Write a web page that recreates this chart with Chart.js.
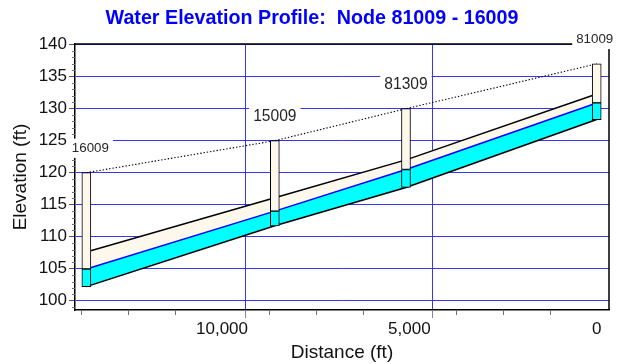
<!DOCTYPE html>
<html>
<head>
<meta charset="utf-8">
<title>Water Elevation Profile</title>
<script src="https://cdn.jsdelivr.net/npm/chart.js@4/dist/chart.umd.min.js"></script>
<style>
  html, body { margin: 0; padding: 0; background: #fff; }
  #wrap { width: 619px; height: 364px; }
</style>
</head>
<body>
<div id="wrap"><canvas id="profile-chart"></canvas></div>
<script>
// nodes along the profile, upstream to downstream (distance from outlet node)
var nodeNames  = ['16009', '15009', '81309', '81009'];
var nodeDist   = [13620, 8590, 5090, 0];
var invertElev = [102.2, 111.7, 117.7, 128.3];
var waterElev  = [104.95, 114.0, 120.5, 130.9];
var crownElev  = [107.6, 116.1, 122.0, 132.3];
var groundElev = [120, 125, 130, 137];

var distTicks = [0, 1250, 2500, 3750, 5000, 6250, 7500, 8750, 10000, 11250, 12500, 13750];
var elevTicks = [100, 105, 110, 115, 120, 125, 130, 135, 140];

var FONT = '"Liberation Sans", Arial, sans-serif';
var GRID = '#3535ff';
var CREAM = '#fdf7ec';
var CYAN = '#00ffff';

function pts(vals) {
    var out = [];
    nodeDist.forEach(function(d, i) { out.push({x: d, y: vals[i]}); });
    return out;
}
function boxes(lo, hi) {
    var out = [];
    nodeDist.forEach(function(d, i) { out.push({x: d, y: [lo[i], hi[i]]}); });
    return out;
}

// axis frame, minor ticks and node labels
var profileDecor = {
    id: 'profileDecor',
    afterDraw: function(chart) {
        var ctx = chart.ctx, a = chart.chartArea;
        var xs = chart.scales.x, ys = chart.scales.y;
        ctx.save();

        ctx.strokeStyle = '#707070';
        ctx.lineWidth = 1;
        ctx.beginPath();
        for (var v = Math.ceil(ys.min); v <= ys.max; v++) {
            if (v % 5 === 0) continue;
            var py = Math.round(ys.getPixelForValue(v)) + 0.5;
            ctx.moveTo(a.left - 3, py);
            ctx.lineTo(a.left, py);
        }
        distTicks.forEach(function(d) {
            if (d % 5000 === 0) return;
            var px = Math.round(xs.getPixelForValue(d)) + 0.5;
            ctx.moveTo(px, a.bottom);
            ctx.lineTo(px, a.bottom + 5);
        });
        ctx.stroke();

        ctx.strokeStyle = '#000';
        ctx.lineWidth = 1.5;
        ctx.beginPath();
        ctx.moveTo(a.left, a.top);
        ctx.lineTo(a.right, a.top);
        ctx.lineTo(a.right, a.bottom);
        ctx.stroke();

        // end labels are nudged inward so they stay clear of the axes
        ctx.textAlign = 'center';
        ctx.textBaseline = 'middle';
        var last = nodeNames.length - 1;
        nodeNames.forEach(function(name, i) {
            var size = (i === 0 || i === last) ? 13.3 : 15.6;
            var nudge = i === 0 ? 4 : (i === last ? -2 : 0);
            ctx.font = size + 'px ' + FONT;
            var x = xs.getPixelForValue(nodeDist[i]) + nudge;
            var y = ys.getPixelForValue(groundElev[i]) - 24.5;
            var w = ctx.measureText(name).width;
            ctx.fillStyle = '#fff';
            ctx.fillRect(x - w / 2 - 4, y - size / 2 - 3, w + 8, size + 6);
            ctx.fillStyle = '#262626';
            ctx.fillText(name, x, y);
        });
        ctx.restore();
    }
};

new Chart(document.getElementById('profile-chart'), {
    type: 'line',
    data: {
        datasets: [
            {
                type: 'bar', label: 'node water', data: boxes(invertElev, waterElev),
                backgroundColor: CYAN, borderColor: '#000', borderWidth: 1,
                borderSkipped: false, barThickness: 9, grouped: false, order: 0
            },
            {
                type: 'bar', label: 'node depth', data: boxes(waterElev, groundElev),
                backgroundColor: CREAM, borderColor: '#000', borderWidth: 1,
                borderSkipped: false, barThickness: 9, grouped: false, order: 0
            },
            {
                label: 'water', data: pts(waterElev),
                borderColor: '#0000ff', borderWidth: 1.5, pointRadius: 0,
                fill: {target: 3, above: CYAN, below: CYAN}, order: 2
            },
            {
                label: 'invert', data: pts(invertElev),
                borderColor: '#000', borderWidth: 1.5, pointRadius: 0,
                fill: false, order: 3
            },
            {
                label: 'crown', data: pts(crownElev),
                borderColor: '#000', borderWidth: 1.5, pointRadius: 0,
                fill: {target: 2, above: CREAM, below: CREAM}, order: 1
            },
            {
                label: 'ground', data: pts(groundElev),
                borderColor: '#000', borderWidth: 1.1, borderDash: [1.4, 1.9],
                pointRadius: 0, fill: false, order: 1
            }
        ]
    },
    options: {
        responsive: true,
        maintainAspectRatio: false,
        animation: false,
        devicePixelRatio: 1,
        layout: { padding: { left: 15, right: 10, top: 0, bottom: 0 } },
        plugins: {
            legend: { display: false },
            tooltip: { enabled: false },
            filler: { drawTime: 'beforeDatasetsDraw' },
            title: {
                display: true,
                text: 'Water Elevation Profile:  Node 81009 - 16009',
                color: '#0000ff',
                font: { family: FONT, size: 19.7, weight: 'bold' },
                padding: { top: 6.5, bottom: 13.9 }
            }
        },
        scales: {
            x: {
                type: 'linear', reverse: true, min: -328, max: 13923, offset: false,
                afterBuildTicks: function(s) {
                    s.ticks = distTicks.map(function(v) { return {value: v}; });
                },
                afterFit: function(s) { s.height = 54; },
                border: { display: true, color: '#000', width: 1.5 },
                grid: {
                    color: function(c) { return c.tick && c.tick.value % 5000 === 0 ? GRID : 'rgba(0,0,0,0)'; },
                    tickColor: function(c) { return c.tick && c.tick.value % 5000 === 0 ? '#888' : 'rgba(0,0,0,0)'; },
                    lineWidth: 1, tickLength: 8
                },
                ticks: {
                    autoSkip: false, maxRotation: 0, padding: 1, color: '#111',
                    font: { family: FONT, size: 17 },
                    callback: function(v) { return v % 5000 === 0 ? v.toLocaleString('en-US') : ''; }
                },
                title: {
                    display: true, text: 'Distance (ft)', color: '#111',
                    font: { family: FONT, size: 19 }, padding: { top: 0, bottom: 0 }
                }
            },
            y: {
                type: 'linear', min: 98.55, max: 140.1,
                afterBuildTicks: function(s) {
                    s.ticks = elevTicks.map(function(v) { return {value: v}; });
                },
                afterFit: function(s) { s.width = 60; },
                border: { display: true, color: '#000', width: 1.5 },
                grid: { color: GRID, lineWidth: 1, tickLength: 6, tickColor: '#555' },
                ticks: {
                    padding: 2, color: '#111',
                    font: { family: FONT, size: 17 }
                },
                title: {
                    display: true, text: 'Elevation (ft)', color: '#111',
                    font: { family: FONT, size: 19 }, padding: { top: -5.4, bottom: 0 }
                }
            }
        }
    },
    plugins: [profileDecor]
});
</script>
</body>
</html>
